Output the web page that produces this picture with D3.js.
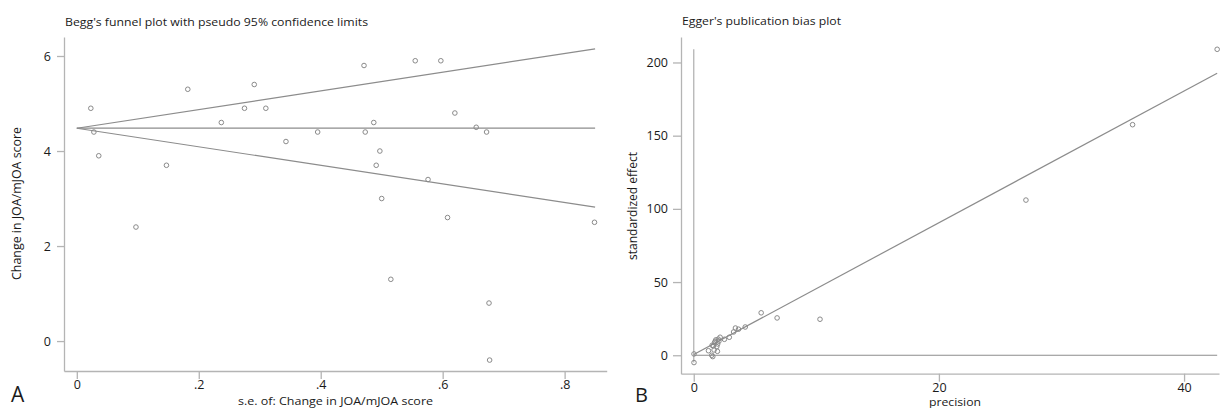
<!DOCTYPE html>
<html>
<head>
<meta charset="utf-8">
<script src="https://cdn.jsdelivr.net/npm/d3@7"></script>
<style>
	body { margin: 0; background: #fff; }
	text { font-family: "Open Sans", sans-serif; fill: #1a1a1a; }
</style>
</head>
<body>
<script>
//Begg's funnel data: standard error and change in score
var beggSe = [0.023, 0.028, 0.036, 0.097, 0.147, 0.182, 0.237, 0.275, 0.291, 0.31,
	0.343, 0.395, 0.471, 0.473, 0.487, 0.491, 0.497, 0.5, 0.515, 0.555,
	0.576, 0.597, 0.608, 0.62, 0.655, 0.672, 0.676, 0.677, 0.849];
var beggChange = [4.9, 4.4, 3.9, 2.4, 3.7, 5.3, 4.6, 4.9, 5.4, 4.9,
	4.2, 4.4, 5.8, 4.4, 4.6, 3.7, 4.0, 3.0, 1.3, 5.9,
	3.4, 5.9, 2.6, 4.8, 4.5, 4.4, 0.8, -0.4, 2.5];
//Pooled estimate and pseudo 95% limits at se = 0 and se = max
var funnelSe = [0, 0.85];
var funnelMid = [4.48, 4.48];
var funnelUpper = [4.48, 6.15];
var funnelLower = [4.48, 2.82];
var beggXTicks = [0, 0.2, 0.4, 0.6, 0.8];
var beggXLabels = ["0", ".2", ".4", ".6", ".8"];
var beggYTicks = [0, 2, 4, 6];

//Egger's data: precision and standardized effect
var eggPrecision = [42.7, 35.8, 27.1, 10.3, 6.8, 5.5, 4.2, 3.65, 3.4, 3.25,
	2.9, 2.5, 2.15, 2.05, 1.95, 1.8, 1.7, 1.88, 1.93, 1.6,
	1.5, 1.66, 1.2, 1.47, 1.55, 0.02, 0.02, 1.75, 2.0];
var eggEffect = [209, 157.5, 106, 24.6, 25.5, 29, 19.3, 17.8, 18.6, 15.9,
	12.3, 10.9, 12.3, 9.6, 7.7, 10.5, 8.6, 5.9, 2.7, 6.4,
	6.8, 3.6, 3.1, 0, -0.9, 0.9, -5, 9.5, 11];
//Regression line end points
var eggLineX = [0, 42.7];
var eggLineY = [0.5, 192.7];
var eggXTicks = [0, 20, 40];
var eggYTicks = [0, 50, 100, 150, 200];

var w = 1220, h = 408;
var axisCol = "#b4b4b4", lineCol = "#8c8c8c", ptCol = "#8a8a8a";

var svg = d3.select("body").append("svg")
	.attr("width", w)
	.attr("height", h);

function styleAxis(g) {
	g.selectAll("path, line").style("stroke", axisCol).style("stroke-width", 1.3);
	g.selectAll("text").style("font-size", "12.5px").style("fill", "#1a1a1a")
		.style("font-family", "'Open Sans', sans-serif");
}

// ---- Panel A: Begg's funnel plot ----
var x1 = d3.scaleLinear().domain([-0.021, 0.869]).range([64, 606.7]);
var y1 = d3.scaleLinear().domain([-0.63, 6.4]).range([371, 37]);

svg.append("g")
	.attr("transform", "translate(0,371)")
	.call(d3.axisBottom(x1).tickValues(beggXTicks).tickSize(8).tickSizeOuter(0).tickPadding(1)
		.tickFormat(function(d, i) { return beggXLabels[i]; }))
	.call(styleAxis);

svg.append("g")
	.attr("transform", "translate(64,0)")
	.call(d3.axisLeft(y1).tickValues(beggYTicks).tickSize(7).tickSizeOuter(0).tickPadding(6)
		.tickFormat(d3.format("d")))
	.call(styleAxis);

var funnelLines = [funnelUpper, funnelMid, funnelLower];
var lineA = d3.line()
	.x(function(d, i) { return x1(funnelSe[i]); })
	.y(function(d) { return y1(d); });
svg.append("g").selectAll("path")
	.data(funnelLines)
	.enter()
	.append("path")
	.attr("d", lineA)
	.style("fill", "none")
	.style("stroke", lineCol)
	.style("stroke-width", 1.2);

svg.append("g").selectAll("circle")
	.data(beggSe)
	.enter()
	.append("circle")
	.attr("cx", function(d) { return x1(d); })
	.attr("cy", function(d, i) { return y1(beggChange[i]); })
	.attr("r", 2.3)
	.style("fill", "none")
	.style("stroke", ptCol)
	.style("stroke-width", 1);

svg.append("text").text("Begg's funnel plot with pseudo 95% confidence limits")
	.attr("x", 65).attr("y", 26)
	.attr("textLength", 303).attr("lengthAdjust", "spacingAndGlyphs")
	.style("font-size", "11.5px");
svg.append("text").text("s.e. of: Change in JOA/mJOA score")
	.attr("x", 238).attr("y", 405)
	.attr("textLength", 195).attr("lengthAdjust", "spacingAndGlyphs")
	.style("font-size", "11px");
svg.append("text").text("Change in JOA/mJOA score")
	.attr("transform", "translate(21,280) rotate(-90)")
	.attr("textLength", 153).attr("lengthAdjust", "spacingAndGlyphs")
	.style("font-size", "12px");
svg.append("text").text("A")
	.attr("x", 11).attr("y", 402)
	.style("font-size", "21px");

// ---- Panel B: Egger's publication bias plot ----
var x2 = d3.scaleLinear().domain([-1.04, 42.85]).range([681, 1219]);
var y2 = d3.scaleLinear().domain([-12.6, 217.4]).range([373.7, 37]);

svg.append("g")
	.attr("transform", "translate(0,373.7)")
	.call(d3.axisBottom(x2).tickValues(eggXTicks).tickSize(8).tickSizeOuter(0).tickPadding(1))
	.call(styleAxis);

svg.append("g")
	.attr("transform", "translate(681,0)")
	.call(d3.axisLeft(y2).tickValues(eggYTicks).tickSize(8).tickSizeOuter(0).tickPadding(5))
	.call(styleAxis);

//Reference lines at zero, spanning the data
var xExt = d3.extent(eggPrecision), yExt = d3.extent(eggEffect);
svg.append("line")
	.attr("x1", x2(0)).attr("x2", x2(0))
	.attr("y1", y2(yExt[0])).attr("y2", y2(yExt[1]))
	.style("stroke", axisCol).style("stroke-width", 1.3);
svg.append("line")
	.attr("x1", x2(0)).attr("x2", x2(xExt[1]))
	.attr("y1", y2(0)).attr("y2", y2(0))
	.style("stroke", lineCol).style("stroke-width", 1.1);

svg.append("path")
	.attr("d", d3.line()
		.x(function(d, i) { return x2(eggLineX[i]); })
		.y(function(d) { return y2(d); })(eggLineY))
	.style("fill", "none")
	.style("stroke", lineCol)
	.style("stroke-width", 1.2);

svg.append("g").selectAll("circle")
	.data(eggPrecision)
	.enter()
	.append("circle")
	.attr("cx", function(d) { return x2(d); })
	.attr("cy", function(d, i) { return y2(eggEffect[i]); })
	.attr("r", 2.3)
	.style("fill", "none")
	.style("stroke", ptCol)
	.style("stroke-width", 1);

svg.append("text").text("Egger's publication bias plot")
	.attr("x", 682).attr("y", 25)
	.attr("textLength", 159).attr("lengthAdjust", "spacingAndGlyphs")
	.style("font-size", "11.5px");
svg.append("text").text("precision")
	.attr("x", 929).attr("y", 406)
	.attr("textLength", 52).attr("lengthAdjust", "spacingAndGlyphs")
	.style("font-size", "11px");
svg.append("text").text("standardized effect")
	.attr("transform", "translate(637,260) rotate(-90)")
	.attr("textLength", 108).attr("lengthAdjust", "spacingAndGlyphs")
	.style("font-size", "12px");
svg.append("text").text("B")
	.attr("x", 635).attr("y", 402)
	.style("font-size", "20px");
</script>
</body>
</html>
